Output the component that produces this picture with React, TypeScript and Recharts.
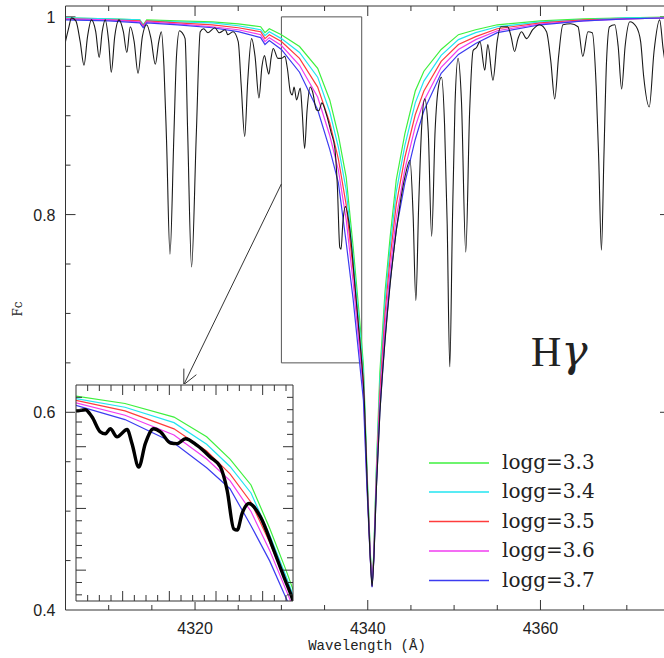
import React from 'react';
import { LineChart, Line, XAxis, YAxis, ReferenceArea, ReferenceLine } from 'recharts';

// observed spectrum (black)
const OBS_WAVE = [
  4305.0, 4305.35, 4305.7, 4306.2, 4306.7, 4307.14, 4307.55, 4308.0, 4308.5, 4308.9,
  4309.25, 4309.6, 4310.0, 4310.3, 4310.7, 4311.2, 4311.7, 4312.1, 4312.5, 4312.95,
  4313.4, 4313.9, 4314.4, 4314.9, 4315.4, 4315.8, 4316.1, 4316.4, 4316.7, 4317.1,
  4317.55, 4317.85, 4318.2, 4318.5, 4318.85, 4319.15, 4319.6, 4320.15, 4320.6, 4321.0,
  4321.5, 4322.3, 4322.8, 4323.5, 4323.8, 4324.4, 4325.0, 4325.35, 4325.75, 4326.1,
  4326.55, 4326.95, 4327.4, 4327.75, 4328.05, 4328.3, 4328.55, 4328.8, 4329.05, 4329.6,
  4330.0, 4330.4, 4330.69, 4331.04, 4331.26, 4331.47, 4331.76, 4332.19, 4332.4, 4332.69,
  4332.97, 4333.33, 4333.62, 4334.05, 4334.33, 4334.69, 4335.19, 4335.76, 4336.19, 4336.48,
  4336.76, 4336.91, 4337.12, 4337.41, 4337.91, 4338.48, 4338.91, 4339.27, 4339.6, 4339.95,
  4340.3, 4340.5, 4340.7, 4341.0, 4341.4, 4342.0, 4342.6, 4343.3, 4344.3, 4344.9,
  4345.25, 4345.57, 4345.9, 4346.25, 4346.6, 4347.0, 4347.4, 4347.8, 4348.2, 4348.54,
  4348.9, 4349.2, 4349.5, 4349.8, 4350.1, 4350.46, 4350.85, 4351.35, 4351.8, 4352.2,
  4352.6, 4353.0, 4353.55, 4353.9, 4354.5, 4355.0, 4355.4, 4356.2, 4356.6, 4357.0,
  4357.4, 4357.8, 4358.4, 4359.1, 4359.9, 4360.7, 4361.2, 4361.65, 4362.1, 4362.6,
  4363.5, 4364.35, 4364.9, 4365.5, 4366.0, 4366.45, 4366.75, 4367.06, 4367.35, 4367.65,
  4368.0, 4368.6, 4369.0, 4369.4, 4369.8, 4370.35, 4371.1, 4371.6, 4371.95, 4372.6,
  4373.15, 4373.8, 4374.2, 4374.6,
];
const OBS_FLUX = [
  0.975, 0.988, 0.999, 0.996, 0.975, 0.951, 0.98, 0.997, 0.985, 0.959,
  0.985, 0.997, 0.975, 0.944, 0.98, 0.997, 0.985, 0.964, 0.99, 0.975,
  0.943, 0.98, 0.992, 0.978, 0.952, 0.975, 0.985, 0.95, 0.875, 0.76,
  0.88, 0.96, 0.986, 0.984, 0.978, 0.882, 0.747, 0.882, 0.985, 0.988,
  0.984, 0.989, 0.984, 0.987, 0.982, 0.985, 0.975, 0.93, 0.879, 0.935,
  0.978, 0.96, 0.918, 0.95, 0.961, 0.95, 0.942, 0.958, 0.968, 0.958,
  0.958, 0.96, 0.948, 0.924, 0.921, 0.929, 0.916, 0.928, 0.905, 0.867,
  0.905, 0.929, 0.924, 0.906, 0.905, 0.913, 0.902, 0.883, 0.867, 0.829,
  0.767, 0.765, 0.792, 0.808, 0.786, 0.732, 0.689, 0.654, 0.612, 0.525,
  0.451, 0.424, 0.451, 0.523, 0.598, 0.672, 0.73, 0.783, 0.838, 0.855,
  0.8, 0.713, 0.81, 0.89, 0.917, 0.885, 0.778, 0.885, 0.93, 0.939,
  0.89, 0.79, 0.646, 0.79, 0.91, 0.958, 0.915, 0.762, 0.905, 0.966,
  0.969, 0.975, 0.946, 0.972, 0.936, 0.976, 0.99, 0.99, 0.98, 0.965,
  0.978, 0.985, 0.978, 0.987, 0.992, 0.985, 0.955, 0.917, 0.96, 0.992,
  0.993, 0.99, 0.96, 0.985, 0.984, 0.93, 0.855, 0.764, 0.86, 0.955,
  0.99, 0.992, 0.97, 0.927, 0.97, 0.995, 0.99, 0.975, 0.94, 0.909,
  0.965, 0.997, 0.968, 0.945,
];

// synthetic H-gamma profiles
const MODEL_WAVE = [
  4305.0, 4310.0, 4313.6, 4314.0, 4314.4, 4318.0, 4322.0, 4325.0, 4327.6, 4328.1,
  4328.6, 4330.0, 4332.1, 4334.2, 4335.6, 4336.6, 4337.5, 4338.3, 4339.0, 4339.5,
  4339.9, 4340.3, 4340.5, 4340.7, 4341.0, 4341.4, 4342.0, 4342.6, 4343.3, 4344.3,
  4345.5, 4346.5, 4348.5, 4350.5, 4352.5, 4355.0, 4360.0, 4365.0, 4370.0, 4375.0,
];
const LOGG_33 = [
  0.999, 0.998, 0.997, 0.992, 0.997, 0.996, 0.995, 0.993, 0.99, 0.984,
  0.988, 0.982, 0.97, 0.948, 0.916, 0.88, 0.838, 0.768, 0.7, 0.648,
  0.545, 0.458, 0.425, 0.458, 0.545, 0.64, 0.722, 0.778, 0.835, 0.882,
  0.925, 0.945, 0.967, 0.982, 0.987, 0.992, 0.996, 0.998, 0.999, 1.0,
];
const LOGG_34 = [
  0.999, 0.998, 0.997, 0.992, 0.996, 0.995, 0.994, 0.991, 0.987, 0.981,
  0.985, 0.978, 0.964, 0.939, 0.904, 0.868, 0.825, 0.757, 0.69, 0.64,
  0.54, 0.456, 0.425, 0.456, 0.54, 0.63, 0.712, 0.768, 0.823, 0.87,
  0.913, 0.935, 0.961, 0.977, 0.984, 0.99, 0.995, 0.997, 0.999, 0.999,
];
const LOGG_35 = [
  0.998, 0.997, 0.996, 0.991, 0.996, 0.994, 0.992, 0.989, 0.985, 0.978,
  0.982, 0.975, 0.958, 0.929, 0.893, 0.856, 0.81, 0.745, 0.68, 0.632,
  0.535, 0.454, 0.424, 0.454, 0.535, 0.62, 0.7, 0.757, 0.81, 0.858,
  0.901, 0.925, 0.955, 0.972, 0.98, 0.988, 0.994, 0.997, 0.998, 0.999,
];
const LOGG_36 = [
  0.998, 0.997, 0.995, 0.99, 0.995, 0.993, 0.99, 0.987, 0.982, 0.975,
  0.979, 0.971, 0.951, 0.919, 0.88, 0.845, 0.795, 0.732, 0.668, 0.622,
  0.53, 0.452, 0.424, 0.452, 0.53, 0.61, 0.688, 0.745, 0.797, 0.846,
  0.889, 0.915, 0.949, 0.967, 0.977, 0.986, 0.993, 0.996, 0.998, 0.999,
];
const LOGG_37 = [
  0.997, 0.996, 0.994, 0.989, 0.994, 0.992, 0.989, 0.985, 0.979, 0.972,
  0.976, 0.967, 0.944, 0.906, 0.866, 0.832, 0.772, 0.715, 0.655, 0.612,
  0.525, 0.45, 0.423, 0.45, 0.525, 0.6, 0.675, 0.733, 0.785, 0.832,
  0.876, 0.905, 0.943, 0.962, 0.973, 0.984, 0.992, 0.996, 0.998, 0.999,
];

const SERIES = [
  { name: 'logg=3.3', color: '#3ef03e', flux: LOGG_33 },
  { name: 'logg=3.4', color: '#22e4f0', flux: LOGG_34 },
  { name: 'logg=3.5', color: '#ff3c3c', flux: LOGG_35 },
  { name: 'logg=3.6', color: '#f03cf0', flux: LOGG_36 },
  { name: 'logg=3.7', color: '#3c3cf0', flux: LOGG_37 },
];

const MAIN_X_TICKS = [4310, 4315, 4320, 4325, 4330, 4335, 4340, 4345, 4350, 4355, 4360, 4365, 4370];
const MAIN_X_LABELS = [4320, 4340, 4360];
const MAIN_Y_TICKS = [0.45, 0.5, 0.55, 0.6, 0.65, 0.7, 0.75, 0.8, 0.85, 0.9, 0.95, 1.0];
const MAIN_Y_LABELS = [0.4, 0.6, 0.8, 1.0];

const INSET_X_TICKS = [
  4330.5, 4331, 4331.5, 4332, 4332.5, 4333, 4333.5, 4334, 4334.5, 4335, 4335.5,
  4336, 4336.5, 4337, 4337.5, 4338, 4338.5, 4339,
];
const INSET_X_MAJOR = [4332, 4334, 4336, 4338];
const INSET_Y_TICKS = [
  0.66, 0.68, 0.7, 0.72, 0.74, 0.76, 0.78, 0.8, 0.82, 0.84, 0.86, 0.88, 0.9, 0.92, 0.94, 0.96, 0.98,
];
const INSET_Y_MAJOR = [0.7, 0.8, 0.9];

// the boxed region that the inset magnifies
const ZOOM_X = [4330, 4339.3];
const ZOOM_Y = [0.65, 1.0];
const ARROW_FROM = { x: 4330, y: 0.831 };
const ARROW_TO = { x: 4318.7, y: 0.628 };

const X_DOMAIN = [4305, 4375];
const Y_DOMAIN = [0.4, 1.011];

const W = 680;
const H = 658;
const MARGIN = { top: 5, right: 9, bottom: 47, left: 64.5 };
const PLOT_W = W - MARGIN.left - MARGIN.right - 2;
const PLOT_H = H - MARGIN.top - MARGIN.bottom - 2;
const PX_PER_X = PLOT_W / (X_DOMAIN[1] - X_DOMAIN[0]);
const PX_PER_Y = PLOT_H / (Y_DOMAIN[1] - Y_DOMAIN[0]);

const AXIS = '#333';
const INK = '#222';

const pts = (w: number[], f: number[]) => w.map((x, i) => ({ w: x, f: f[i] }));
const OBS = pts(OBS_WAVE, OBS_FLUX);
const MODELS = SERIES.map((s) => ({ ...s, data: pts(MODEL_WAVE, s.flux) }));

const has = (list: number[], v: number) => list.some((t) => Math.abs(t - v) < 1e-6);

// inward tick marks of the main frame, as short segments in data units (major = 10px, minor = 5px)
type Pt = { x: number; y: number };
const FRAME_TICKS: Pt[][] = [];
for (const x of MAIN_X_TICKS) {
  const n = (has(MAIN_X_LABELS, x) ? 10 : 5) / PX_PER_Y;
  FRAME_TICKS.push([{ x, y: Y_DOMAIN[0] }, { x, y: Y_DOMAIN[0] + n }]);
  FRAME_TICKS.push([{ x, y: Y_DOMAIN[1] }, { x, y: Y_DOMAIN[1] - n }]);
}
for (const y of MAIN_Y_TICKS) {
  const n = (has(MAIN_Y_LABELS, y) ? 10 : 5) / PX_PER_X;
  FRAME_TICKS.push([{ x: X_DOMAIN[0], y }, { x: X_DOMAIN[0] + n, y }]);
  FRAME_TICKS.push([{ x: X_DOMAIN[1], y }, { x: X_DOMAIN[1] - n, y }]);
}

// arrow head barbs, built in pixel space and turned back into data units
function arrowBarbs() {
  const dx = (ARROW_FROM.x - ARROW_TO.x) * PX_PER_X;
  const dy = -(ARROW_FROM.y - ARROW_TO.y) * PX_PER_Y;
  const len = Math.hypot(dx, dy);
  const ux = dx / len;
  const uy = dy / len;
  const out = [];
  for (const a of [0.45, -0.45]) {
    const bx = ux * Math.cos(a) - uy * Math.sin(a);
    const by = ux * Math.sin(a) + uy * Math.cos(a);
    out.push({
      x: ARROW_TO.x + (bx * 16) / PX_PER_X,
      y: ARROW_TO.y - (by * 16) / PX_PER_Y,
    });
  }
  return out;
}
const BARBS = arrowBarbs();

const tickText = { fontFamily: '"Liberation Sans", Arial, sans-serif', fontSize: 16, fill: INK };

const bottomLabel = (p: any) => (
  <text x={p.x} y={p.y + 24} textAnchor="middle" {...tickText}>
    {p.payload.value}
  </text>
);
const leftLabel = (p: any) => {
  const v = p.payload.value;
  return (
    <text x={p.x - 10} y={p.y + 6} textAnchor="end" {...tickText}>
      {v === 1 ? '1' : v.toFixed(1)}
    </text>
  );
};

// inward tick marks for the inset frame
type Side = 'b' | 't' | 'l' | 'r';
const insetTick = (side: Side, major: number[]) => (p: any) => {
  const n = has(major, p.payload.value) ? 10 : 6;
  const d = { b: [0, -n], t: [0, n], l: [n, 0], r: [-n, 0] }[side];
  return (
    <g>
      <path d={`M${p.x},${p.y}L${p.x + d[0]},${p.y + d[1]}`} stroke={AXIS} strokeWidth={1} fill="none" />
    </g>
  );
};

const axisCommon = {
  type: 'number' as const,
  allowDataOverflow: true,
  interval: 0,
  tickSize: 0,
  tickMargin: 0,
  tickLine: false,
  axisLine: { stroke: AXIS },
};

function MainChart() {
  return (
    <LineChart width={W} height={H} margin={MARGIN}>
      <XAxis xAxisId="b" dataKey="w" domain={X_DOMAIN} ticks={MAIN_X_LABELS} tick={bottomLabel}
        height={1} {...axisCommon} />
      <XAxis xAxisId="t" orientation="top" dataKey="w" domain={X_DOMAIN} tick={false}
        height={1} {...axisCommon} />
      <YAxis yAxisId="l" dataKey="f" domain={Y_DOMAIN} ticks={MAIN_Y_LABELS} tick={leftLabel}
        width={1} {...axisCommon} />
      <YAxis yAxisId="r" orientation="right" dataKey="f" domain={Y_DOMAIN} tick={false}
        width={1} {...axisCommon} />

      {FRAME_TICKS.map((s, i) => (
        <ReferenceLine key={`tk${i}`} xAxisId="b" yAxisId="l" segment={s} stroke={AXIS} strokeWidth={1} />
      ))}

      <ReferenceArea xAxisId="b" yAxisId="l" x1={ZOOM_X[0]} x2={ZOOM_X[1]} y1={ZOOM_Y[0]} y2={ZOOM_Y[1]}
        fill="none" fillOpacity={0} stroke="#555" strokeWidth={1} />
      <ReferenceLine xAxisId="b" yAxisId="l" segment={[ARROW_FROM, ARROW_TO]} stroke="#333" />
      {BARBS.map((b, i) => (
        <ReferenceLine key={`ar${i}`} xAxisId="b" yAxisId="l" segment={[ARROW_TO, b]} stroke="#333" />
      ))}

      {MODELS.map((m) => (
        <Line key={m.name} xAxisId="b" yAxisId="l" data={m.data} dataKey="f" type="linear"
          stroke={m.color} strokeWidth={1.2} dot={false} activeDot={false} isAnimationActive={false} />
      ))}
      <Line xAxisId="b" yAxisId="l" data={OBS} dataKey="f" type="monotone" stroke="#1a1a1a"
        strokeWidth={1.1} dot={false} activeDot={false} isAnimationActive={false} />
    </LineChart>
  );
}

function InsetChart() {
  return (
    <LineChart width={219} height={218} margin={{ top: 0, right: 0, bottom: 0, left: 0 }}>
      <XAxis xAxisId="b" dataKey="w" domain={ZOOM_X} ticks={INSET_X_TICKS}
        tick={insetTick('b', INSET_X_MAJOR)} height={1} {...axisCommon} />
      <XAxis xAxisId="t" orientation="top" dataKey="w" domain={ZOOM_X} ticks={INSET_X_TICKS}
        tick={insetTick('t', INSET_X_MAJOR)} height={1} {...axisCommon} />
      <YAxis yAxisId="l" dataKey="f" domain={ZOOM_Y} ticks={INSET_Y_TICKS}
        tick={insetTick('l', INSET_Y_MAJOR)} width={1} {...axisCommon} />
      <YAxis yAxisId="r" orientation="right" dataKey="f" domain={ZOOM_Y} ticks={INSET_Y_TICKS}
        tick={insetTick('r', INSET_Y_MAJOR)} width={1} {...axisCommon} />
      {MODELS.map((m) => (
        <Line key={m.name} xAxisId="b" yAxisId="l" data={m.data} dataKey="f" type="linear"
          stroke={m.color} strokeWidth={1.2} dot={false} activeDot={false} isAnimationActive={false} />
      ))}
      <Line xAxisId="b" yAxisId="l" data={OBS} dataKey="f" type="monotone" stroke="#000"
        strokeWidth={3.4} dot={false} activeDot={false} isAnimationActive={false} />
    </LineChart>
  );
}

const LEGEND_Y = [463, 492, 521.5, 551, 580.5];

export default function App() {
  return (
    <div style={{ position: 'absolute', left: 0, top: 0, width: 664, height: 658, overflow: 'hidden', background: '#fff' }}>
      <div style={{ position: 'absolute', left: 0, top: 0 }}>
        <MainChart />
      </div>
      <div style={{ position: 'absolute', left: 75, top: 384, width: 219, height: 218, background: '#fff' }}>
        <InsetChart />
      </div>
      <svg width={664} height={658} style={{ position: 'absolute', left: 0, top: 0, pointerEvents: 'none' }}>
        {SERIES.map((s, i) => (
          <g key={s.name}>
            <line x1={429} x2={489} y1={LEGEND_Y[i]} y2={LEGEND_Y[i]} stroke={s.color} strokeWidth={1.3} />
            <text x={502} y={LEGEND_Y[i] + 6} fontFamily='"DejaVu Serif", serif' fontSize={20} fill={INK}>
              {s.name}
            </text>
          </g>
        ))}
        <text x={531} y={366} fontFamily='"Liberation Serif", serif' fontSize={42} fill={INK}>
          H
          <tspan fontFamily='"DejaVu Serif", serif' fontStyle="italic" fontSize={44}>γ</tspan>
        </text>
        <text x={22} y={309} transform="rotate(-90 22 309)" textAnchor="middle"
          fontFamily='"DejaVu Serif", serif' fontSize={12} fill={INK}>
          Fc
        </text>
        <text x={367} y={650} textAnchor="middle" fontFamily='"Liberation Mono", monospace' fontSize={14} fill={INK}>
          Wavelength (Å)
        </text>
      </svg>
    </div>
  );
}
